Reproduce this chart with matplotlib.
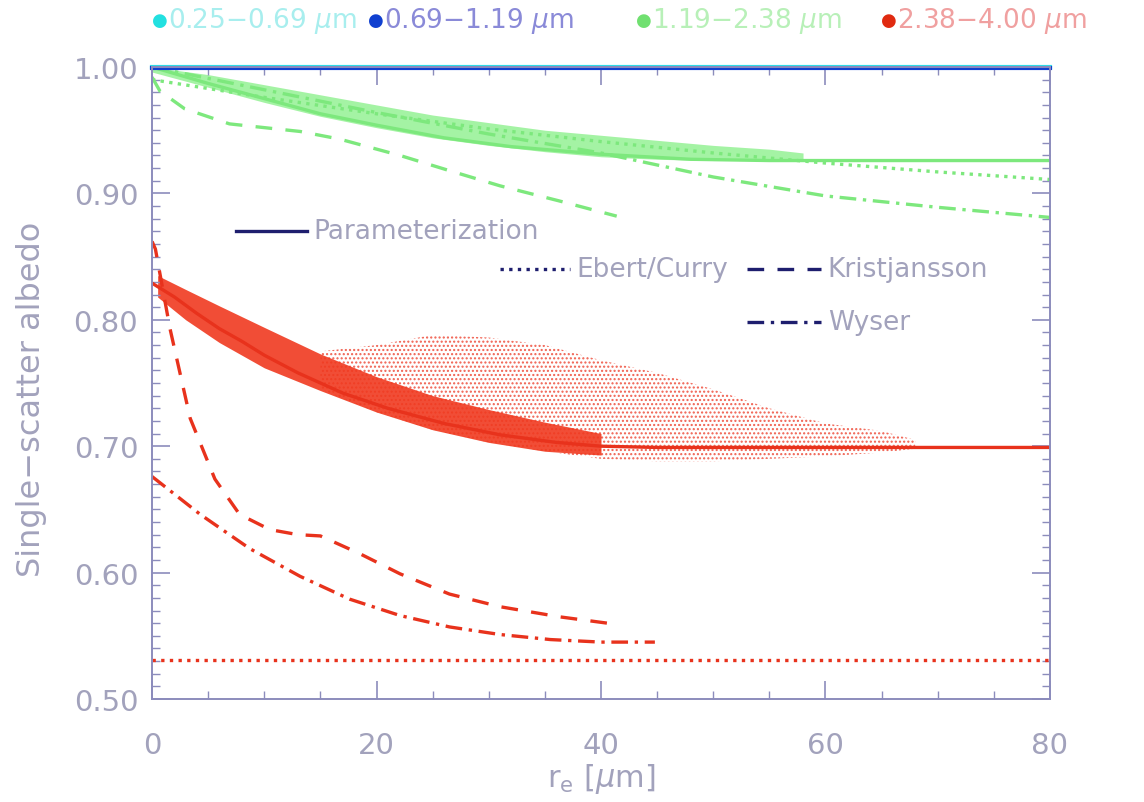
import matplotlib
matplotlib.use("Agg")
import matplotlib.pyplot as plt
from matplotlib.ticker import MultipleLocator
import numpy as np

# effective radius grid points [um]
re_param_red = [0, 2, 4, 6, 8, 10, 13, 17, 21, 26, 31, 36, 40, 45, 50, 60, 70, 80]
alb_param_red = [0.829, 0.818, 0.805, 0.793, 0.783, 0.772, 0.758, 0.742, 0.730, 0.718, 0.709, 0.703, 0.700, 0.699, 0.699, 0.699, 0.699, 0.699]

re_krist_red = [0, 0.3, 1.6, 3.4, 5.6, 7.8, 10.5, 13, 15, 18.5, 22.1, 26.5, 31, 36.3, 41.4]
alb_krist_red = [0.862, 0.856, 0.793, 0.722, 0.674, 0.646, 0.634, 0.630, 0.629, 0.615, 0.599, 0.583, 0.573, 0.565, 0.559]

re_wyser_red = [0, 4.3, 8.7, 13.2, 17.6, 22.1, 26.5, 31, 35.5, 40, 44.8]
alb_wyser_red = [0.676, 0.646, 0.619, 0.597, 0.579, 0.566, 0.557, 0.551, 0.547, 0.545, 0.545]

re_ebert = [0, 80]
alb_ebert_red = [0.531, 0.531]

re_param_green = [0, 5, 10, 15, 20, 26, 32, 40, 48, 55, 60, 70, 80]
alb_param_green = [1.000, 0.987, 0.975, 0.963, 0.954, 0.944, 0.937, 0.931, 0.927, 0.926, 0.926, 0.926, 0.926]

re_ebert_green = [0, 10, 20, 30, 40, 50, 60, 70, 80]
alb_ebert_green = [0.990, 0.976, 0.963, 0.951, 0.941, 0.932, 0.924, 0.917, 0.911]

re_krist_green = [0, 0.7, 2.9, 6.9, 13.2, 16.7, 22.1, 26.5, 31, 36.3, 41.4]
alb_krist_green = [0.992, 0.981, 0.967, 0.955, 0.949, 0.943, 0.930, 0.918, 0.906, 0.894, 0.882]

re_wyser_green = [0, 10, 20, 30, 40, 50, 60, 70, 80]
alb_wyser_green = [1.000, 0.982, 0.964, 0.947, 0.932, 0.913, 0.898, 0.889, 0.881]

re_top = [0, 80]
alb_blue = [0.9995, 0.9995]
alb_cyan = [1.0, 1.0]

# scatter cloud envelopes (dense core and sparse spread)
re_cloud_red = [0.5, 3, 6, 10, 15, 20, 25, 30, 35, 40]
cloud_red_hi = [0.835, 0.824, 0.811, 0.794, 0.773, 0.755, 0.740, 0.729, 0.719, 0.710]
cloud_red_lo = [0.818, 0.800, 0.782, 0.762, 0.744, 0.727, 0.713, 0.703, 0.696, 0.693]
re_spread_red = [15, 20, 25, 30, 35, 40, 45, 50, 55, 60, 65, 68]
spread_red_hi = [0.775, 0.780, 0.788, 0.786, 0.780, 0.768, 0.758, 0.745, 0.730, 0.718, 0.712, 0.705]
spread_red_lo = [0.745, 0.727, 0.713, 0.703, 0.696, 0.690, 0.688, 0.688, 0.690, 0.692, 0.695, 0.698]

re_cloud_green = [0, 5, 10, 15, 20, 25, 30, 35, 40, 45, 50, 55, 58]
cloud_green_hi = [1.000, 0.994, 0.986, 0.978, 0.970, 0.962, 0.956, 0.950, 0.946, 0.942, 0.938, 0.935, 0.932]
cloud_green_lo = [0.996, 0.984, 0.972, 0.961, 0.952, 0.944, 0.938, 0.933, 0.929, 0.927, 0.926, 0.926, 0.926]

bands = ["0.25\u22120.69", "0.69\u22121.19", "1.19\u22122.38", "2.38\u22124.00"]
band_dot_colors = ["#22e0e0", "#1040d0", "#70e070", "#e02a10"]
band_text_colors = ["#a8eeee", "#8a8ad8", "#b8f0b8", "#f0a0a0"]

RED = "#e8321c"
GREEN = "#7de87d"
AXC = "#8c8cbc"
TXT = "#a2a2bc"

fig = plt.figure(figsize=(11.44, 8.03), dpi=100)
ax = fig.add_axes([0.1329, 0.1283, 0.7849, 0.7870])

# clouds
ax.fill_between(re_spread_red, spread_red_lo, spread_red_hi, facecolor="none",
                edgecolor="#f06050", hatch="....", linewidth=0)
ax.fill_between(re_cloud_red, cloud_red_lo, cloud_red_hi, color="#f03a20", alpha=0.9, linewidth=0)
ax.fill_between(re_cloud_green, cloud_green_lo, cloud_green_hi, color="#8ef08e", alpha=0.8, linewidth=0)

lw = 2.4
ax.plot(re_param_red, alb_param_red, color=RED, lw=lw)
ax.plot(re_krist_red, alb_krist_red, color=RED, lw=lw, dashes=(5, 4))
ax.plot(re_wyser_red, alb_wyser_red, color=RED, lw=lw, dashes=(5, 2, 1, 2))
ax.plot(re_ebert, alb_ebert_red, color=RED, lw=lw, dashes=(1, 1.6))

ax.plot(re_param_green, alb_param_green, color=GREEN, lw=lw)
ax.plot(re_ebert_green, alb_ebert_green, color=GREEN, lw=lw, dashes=(1, 1.6))
ax.plot(re_krist_green, alb_krist_green, color=GREEN, lw=lw, dashes=(5, 4))
ax.plot(re_wyser_green, alb_wyser_green, color=GREEN, lw=lw, dashes=(5, 2, 1, 2))

ax.plot(re_top, alb_cyan, color="#30e8e8", lw=3, clip_on=False)
ax.plot(re_top, alb_blue, color="#1040d0", lw=3, clip_on=False)

ax.set_xlim(0, 80)
ax.set_ylim(0.5, 1.0)
ax.xaxis.set_major_locator(MultipleLocator(20))
ax.xaxis.set_minor_locator(MultipleLocator(5))
ax.yaxis.set_major_locator(MultipleLocator(0.1))
ax.yaxis.set_minor_locator(MultipleLocator(0.01))
ax.yaxis.set_major_formatter(plt.FormatStrFormatter("%.2f"))
ax.tick_params(which="both", direction="in", top=True, right=True, color=AXC,
               labelcolor=TXT, labelsize=21)
ax.tick_params(axis="x", pad=23)
ax.tick_params(axis="y", pad=10)
ax.tick_params(which="major", length=13, width=1.2)
ax.tick_params(which="minor", length=6, width=1.0)
for s in ax.spines.values():
    s.set_color(AXC)
    s.set_linewidth(1.4)

ax.set_xlabel("r$_{\\rm e}$ [$\\mu$m]", color=TXT, fontsize=22)
ax.xaxis.set_label_coords(0.5, -0.098)
ax.set_ylabel("Single\u2212scatter albedo", color=TXT, fontsize=23)
ax.yaxis.set_label_coords(-0.117, 0.475)

# method key drawn inside the axes
NAVY = "#1e1e6e"
key = [("Parameterization", "-", 7.5, 13.8, 0.870),
       ("Ebert/Curry", (0, (1, 1.6)), 31.0, 37.2, 0.840),
       ("Kristjansson", (0, (5, 4)), 53.0, 59.6, 0.840),
       ("Wyser", (0, (5, 2, 1, 2)), 53.0, 59.6, 0.798)]
for name, ls, x0, x1, yk in key:
    ax.plot([x0, x1], [yk, yk], color=NAVY, lw=lw, linestyle=ls)
    ax.text(x1 + 0.6, yk, name, color=TXT, fontsize=19, va="center", ha="left")

# wavelength band key on top
xs = [0.133, 0.322, 0.556, 0.770]
for b, dc, tc, xk in zip(bands, band_dot_colors, band_text_colors, xs):
    fig.text(xk, 0.974, "\u25cf", color=dc, fontsize=13, va="center", ha="left")
    fig.text(xk + 0.014, 0.974, b + " $\\mu$m", color=tc, fontsize=19, va="center", ha="left")

fig.savefig("out.png", dpi=100)
